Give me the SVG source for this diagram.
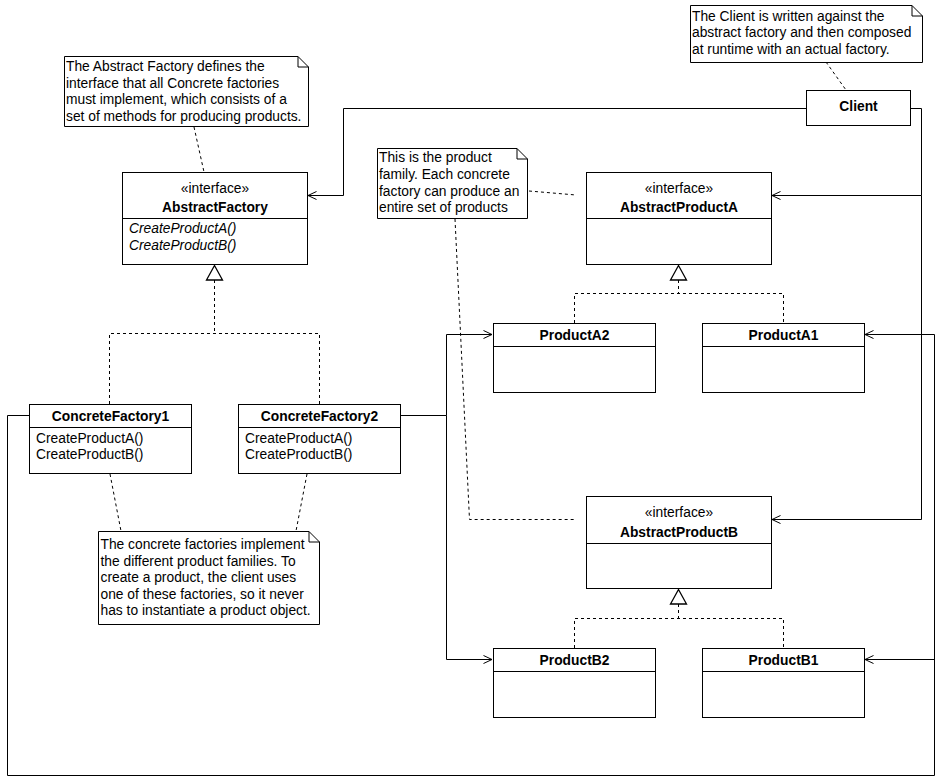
<svg xmlns="http://www.w3.org/2000/svg" width="949" height="781" viewBox="0 0 949 781">
<defs>
<marker id="open" viewBox="0 0 10 10" refX="9.5" refY="5" markerWidth="10" markerHeight="10" markerUnits="userSpaceOnUse" orient="auto">
<path d="M1,1 L9.5,5 L1,9" fill="none" stroke="#000" stroke-width="1"/>
</marker>
</defs>
<style>
text{font-family:"Liberation Sans",Arial,sans-serif;font-size:13.8px;fill:#000}
.b{font-weight:bold}
.i{font-style:italic}
.c{text-anchor:middle}
.box{fill:#fff;stroke:#000;stroke-width:1}
.ln{fill:none;stroke:#000;stroke-width:1}
.ds{fill:none;stroke:#000;stroke-width:1;stroke-dasharray:3 3}
.tri{fill:#fff;stroke:#000;stroke-width:1.3}
</style>
<rect width="949" height="781" fill="#fff"/>

<g id="connectors">
<polyline class="ln" points="806,108.5 343.5,108.5 343.5,195.5 308,195.5" marker-end="url(#open)"/>
<polyline class="ln" points="910,108.5 921.5,108.5 921.5,195.5 772,195.5" marker-end="url(#open)"/>
<polyline class="ln" points="921.5,195.5 921.5,519.5 772,519.5" marker-end="url(#open)"/>
<polyline class="ln" points="29,415.5 7.5,415.5 7.5,775.5 934.5,775.5 934.5,334.5 865,334.5" marker-end="url(#open)"/>
<polyline class="ln" points="934.5,659.5 865,659.5" marker-end="url(#open)"/>
<polyline class="ln" points="400,415.5 446.5,415.5 446.5,334.5 492,334.5" marker-end="url(#open)"/>
<polyline class="ln" points="446.5,415.5 446.5,659.5 492,659.5" marker-end="url(#open)"/>
<line class="ds" x1="214.5" y1="280" x2="214.5" y2="333.5"/>
<polyline class="ds" points="109.5,404 109.5,333.5 319.5,333.5 319.5,404"/>
<polygon class="tri" points="214.5,265.5 206.5,280 222.5,280"/>
<line class="ds" x1="678.5" y1="280" x2="678.5" y2="293.5"/>
<polyline class="ds" points="574.5,323 574.5,293.5 783.5,293.5 783.5,323"/>
<polygon class="tri" points="678.5,265.5 670.5,280 686.5,280"/>
<line class="ds" x1="678.5" y1="604" x2="678.5" y2="618.5"/>
<polyline class="ds" points="574.5,648 574.5,618.5 783.5,618.5 783.5,648"/>
<polygon class="tri" points="678.5,589.5 670.5,604 686.5,604"/>
<line class="ds" x1="194" y1="127" x2="204" y2="172"/>
<line class="ds" x1="826" y1="62" x2="846" y2="90"/>
<line class="ds" x1="529" y1="191" x2="576" y2="195"/>
<polyline class="ds" points="455,219 469.5,519.5 576,519.5"/>
<line class="ds" x1="110" y1="474" x2="121" y2="531"/>
<line class="ds" x1="307" y1="474" x2="296" y2="531"/>
</g>

<g id="note-abstract-factory">
<path class="box" d="M64.5,56.5 H298 L308.5,67 V126.5 H64.5 Z"/>
<path class="ln" d="M298,56.5 V67 H308.5"/>
<text x="66" y="71">The Abstract Factory defines the</text>
<text x="66" y="87.5">interface that all Concrete factories</text>
<text x="66" y="104">must implement, which consists of a</text>
<text x="66" y="120.5">set of methods for producing products.</text>
</g>

<g id="note-client">
<path class="box" d="M690.5,5.5 H912 L922.5,16 V62.5 H690.5 Z"/>
<path class="ln" d="M912,5.5 V16 H922.5"/>
<text x="692" y="20.5">The Client is written against the</text>
<text x="692" y="37">abstract factory and then composed</text>
<text x="692" y="53.5">at runtime with an actual factory.</text>
</g>

<g id="client">
<rect class="box" x="806.5" y="90.5" width="104" height="35"/>
<text class="b c" x="858.5" y="111">Client</text>
</g>

<g id="abstract-factory">
<rect class="box" x="122.5" y="172.5" width="185" height="92"/>
<line class="ln" x1="122.5" y1="218.5" x2="307.5" y2="218.5"/>
<text class="c" x="215" y="193">«interface»</text>
<text class="b c" x="215" y="211.5">AbstractFactory</text>
<text class="i" x="129" y="233">CreateProductA()</text>
<text class="i" x="129" y="249.5">CreateProductB()</text>
</g>

<g id="note-product-family">
<path class="box" d="M377.5,148.5 H517 L527.5,159 V218.5 H377.5 Z"/>
<path class="ln" d="M517,148.5 V159 H527.5"/>
<text x="379" y="162">This is the product</text>
<text x="379" y="178.8">family. Each concrete</text>
<text x="379" y="195.5">factory can produce an</text>
<text x="379" y="212.3">entire set of products</text>
</g>

<g id="abstract-product-a">
<rect class="box" x="586.5" y="172.5" width="185" height="92"/>
<line class="ln" x1="586.5" y1="218.5" x2="771.5" y2="218.5"/>
<text class="c" x="679" y="193.3">«interface»</text>
<text class="b c" x="679" y="211.7">AbstractProductA</text>
</g>

<g id="product-a2">
<rect class="box" x="493.5" y="323.5" width="162" height="69"/>
<line class="ln" x1="493.5" y1="346.5" x2="655.5" y2="346.5"/>
<text class="b c" x="574.5" y="339.5">ProductA2</text>
</g>

<g id="product-a1">
<rect class="box" x="702.5" y="323.5" width="162" height="69"/>
<line class="ln" x1="702.5" y1="346.5" x2="864.5" y2="346.5"/>
<text class="b c" x="783.5" y="339.5">ProductA1</text>
</g>

<g id="concrete-factory-1">
<rect class="box" x="29.5" y="404.5" width="162" height="69"/>
<line class="ln" x1="29.5" y1="427.5" x2="191.5" y2="427.5"/>
<text class="b c" x="110.5" y="420.7">ConcreteFactory1</text>
<text x="36" y="442.7">CreateProductA()</text>
<text x="36" y="458.5">CreateProductB()</text>
</g>

<g id="concrete-factory-2">
<rect class="box" x="238.5" y="404.5" width="162" height="69"/>
<line class="ln" x1="238.5" y1="427.5" x2="400.5" y2="427.5"/>
<text class="b c" x="319.5" y="420.7">ConcreteFactory2</text>
<text x="245" y="442.7">CreateProductA()</text>
<text x="245" y="458.5">CreateProductB()</text>
</g>

<g id="note-concrete-factories">
<path class="box" d="M98.5,531.5 H309 L319.5,542 V624.5 H98.5 Z"/>
<path class="ln" d="M309,531.5 V542 H319.5"/>
<text x="100.5" y="549.3">The concrete factories implement</text>
<text x="100.5" y="565.7">the different product families. To</text>
<text x="100.5" y="581.7">create a product, the client uses</text>
<text x="100.5" y="599">one of these factories, so it never</text>
<text x="100.5" y="615.3">has to instantiate a product object.</text>
</g>

<g id="abstract-product-b">
<rect class="box" x="586.5" y="496.5" width="185" height="92"/>
<line class="ln" x1="586.5" y1="543.5" x2="771.5" y2="543.5"/>
<text class="c" x="679" y="517.3">«interface»</text>
<text class="b c" x="679" y="536.7">AbstractProductB</text>
</g>

<g id="product-b2">
<rect class="box" x="493.5" y="648.5" width="162" height="69"/>
<line class="ln" x1="493.5" y1="671.5" x2="655.5" y2="671.5"/>
<text class="b c" x="574.5" y="664.5">ProductB2</text>
</g>

<g id="product-b1">
<rect class="box" x="702.5" y="648.5" width="162" height="69"/>
<line class="ln" x1="702.5" y1="671.5" x2="864.5" y2="671.5"/>
<text class="b c" x="783.5" y="664.5">ProductB1</text>
</g>
</svg>
